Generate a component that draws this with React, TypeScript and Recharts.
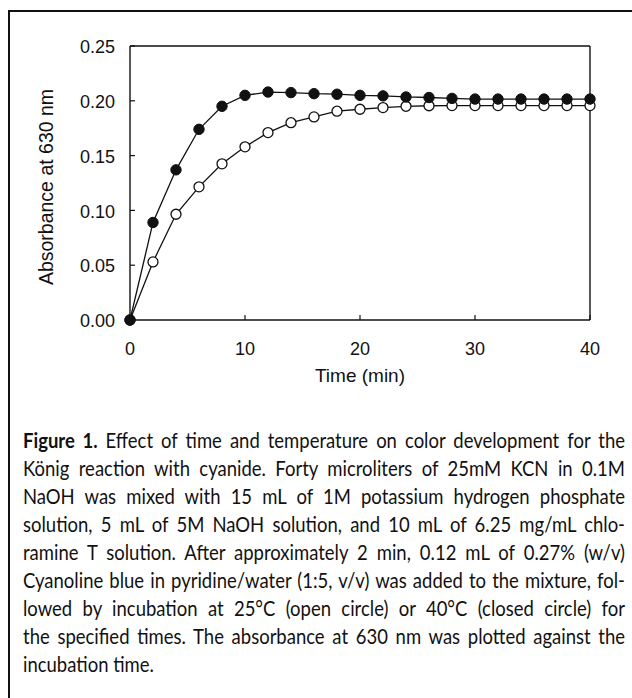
import React from 'react';
import { LineChart, Line, XAxis, YAxis } from 'recharts';

const timeMin = [0, 2, 4, 6, 8, 10, 12, 14, 16, 18, 20, 22, 24, 26, 28, 30, 32, 34, 36, 38, 40];
const closed40C = [0, 0.089, 0.137, 0.174, 0.195, 0.205, 0.208, 0.2075, 0.2065, 0.206, 0.205, 0.2045, 0.2035, 0.203, 0.2022, 0.2016, 0.2016, 0.2016, 0.2016, 0.2016, 0.2016];
const open25C = [0, 0.053, 0.0965, 0.1215, 0.1425, 0.158, 0.171, 0.18, 0.1853, 0.1905, 0.1923, 0.1938, 0.195, 0.1955, 0.1956, 0.1956, 0.1956, 0.1956, 0.1956, 0.1956, 0.1956];
const xTicks = [0, 10, 20, 30, 40];
const yTicks = [0, 0.05, 0.1, 0.15, 0.2, 0.25];

const captionLines = [
  'Effect of time and temperature on color development for the',
  'König reaction with cyanide. Forty microliters of 25mM KCN in 0.1M',
  'NaOH was mixed with 15 mL of 1M potassium hydrogen phosphate',
  'solution, 5 mL of 5M NaOH solution, and 10 mL of 6.25 mg/mL chlo-',
  'ramine T solution. After approximately 2 min, 0.12 mL of 0.27% (w/v)',
  'Cyanoline blue in pyridine/water (1:5, v/v) was added to the mixture, fol-',
  'lowed by incubation at 25°C (open circle) or 40°C (closed circle) for',
  'the specified times. The absorbance at 630 nm was plotted against the',
  'incubation time.',
];

const data = timeMin.map((t, i) => ({ t, closed: closed40C[i], open: open25C[i] }));

const AXIS_FONT = '"Liberation Sans", Arial, sans-serif';
const CAPTION_FONT = 'Lato, "Open Sans", sans-serif';
const SCALE_X = 0.88;
const CAPTION_W = 602;

const XTick = (props: any) => {
  const { x, y, payload } = props;
  return (
    <g>
      <line x1={x} y1={y} x2={x} y2={y - 5} stroke="#111" strokeWidth={1.2} />
      <text x={x} y={y + 35} textAnchor="middle" fontSize={18} fontFamily={AXIS_FONT} fill="#111">
        {payload.value}
      </text>
    </g>
  );
};

const YTick = (props: any) => {
  const { x, y, payload } = props;
  return (
    <g>
      <line x1={x} y1={y} x2={x + 5} y2={y} stroke="#111" strokeWidth={1.2} />
      <text x={x - 15} y={y} dy="0.4em" textAnchor="end" fontSize={18} fontFamily={AXIS_FONT} fill="#111">
        {Number(payload.value).toFixed(2)}
      </text>
    </g>
  );
};

const OpenDot = (props: any) => {
  const { cx, cy } = props;
  if (cx == null || cy == null) return null;
  return <circle cx={cx} cy={cy} r={5} fill="#fff" stroke="#111" strokeWidth={1.3} />;
};

const ClosedDot = (props: any) => {
  const { cx, cy } = props;
  if (cx == null || cy == null) return null;
  return <circle cx={cx} cy={cy} r={5.2} fill="#111" stroke="#111" strokeWidth={1} />;
};

export default function App() {
  return (
    <div style={{ position: 'absolute', left: 0, top: 0, width: 632, height: 698, background: '#fff', overflow: 'hidden' }}>
      <div style={{ position: 'absolute', left: 8, top: 10, width: 624, height: 1.5, background: '#111' }} />
      <div style={{ position: 'absolute', left: 8, top: 10, width: 1.5, height: 688, background: '#111' }} />
      <div style={{ position: 'absolute', left: 0, top: 0 }}>
        <LineChart width={632} height={400} data={data} margin={{ top: 45, right: 41, bottom: 30, left: 70 }}>
          <XAxis
            dataKey="t"
            type="number"
            domain={[0, 40]}
            ticks={xTicks}
            tickSize={0}
            tickMargin={0}
            tickLine={false}
            tick={<XTick />}
            height={50}
            axisLine={{ stroke: '#111', strokeWidth: 1.4 }}
            label={{
              content: (p: any) => {
                const vb = p.viewBox;
                return (
                  <text x={vb.x + vb.width / 2} y={vb.y + 62} textAnchor="middle" fontSize={19} fontFamily={AXIS_FONT} fill="#111">
                    Time (min)
                  </text>
                );
              },
            }}
          />
          <XAxis
            xAxisId="top"
            dataKey="t"
            type="number"
            orientation="top"
            domain={[0, 40]}
            height={1}
            tick={false}
            tickLine={false}
            axisLine={{ stroke: '#111', strokeWidth: 1.4 }}
          />
          <YAxis
            type="number"
            domain={[0, 0.25]}
            ticks={yTicks}
            tickSize={0}
            tickMargin={0}
            tickLine={false}
            tick={<YTick />}
            width={60}
            axisLine={{ stroke: '#111', strokeWidth: 1.4 }}
            label={{
              content: (p: any) => {
                const vb = p.viewBox;
                const cy = vb.y + vb.height / 2 + 4;
                return (
                  <text x={53} y={cy} transform={`rotate(-90 53 ${cy})`} textAnchor="middle" fontSize={19.5} fontFamily={AXIS_FONT} fill="#111">
                    Absorbance at 630 nm
                  </text>
                );
              },
            }}
          />
          <YAxis
            yAxisId="right"
            orientation="right"
            type="number"
            domain={[0, 0.25]}
            width={1}
            tick={false}
            tickLine={false}
            axisLine={{ stroke: '#111', strokeWidth: 1.4 }}
          />
          <Line dataKey="open" stroke="#111" strokeWidth={1.3} dot={<OpenDot />} isAnimationActive={false} />
          <Line dataKey="closed" stroke="#111" strokeWidth={1.3} dot={<ClosedDot />} isAnimationActive={false} />
        </LineChart>
      </div>
      <div
        style={{
          position: 'absolute',
          left: 23,
          top: 426,
          width: CAPTION_W / SCALE_X,
          transform: `scaleX(${SCALE_X})`,
          transformOrigin: '0 0',
          fontFamily: CAPTION_FONT,
          fontSize: 21,
          color: '#111',
        }}
      >
        {captionLines.map((line, i) => (
          <div
            key={i}
            style={{
              height: 28,
              lineHeight: '28px',
              textAlign: 'justify',
              textAlignLast: i === captionLines.length - 1 ? 'left' : 'justify',
              whiteSpace: 'nowrap',
            }}
          >
            {i === 0 && <b>Figure 1. </b>}
            {line}
          </div>
        ))}
      </div>
    </div>
  );
}
